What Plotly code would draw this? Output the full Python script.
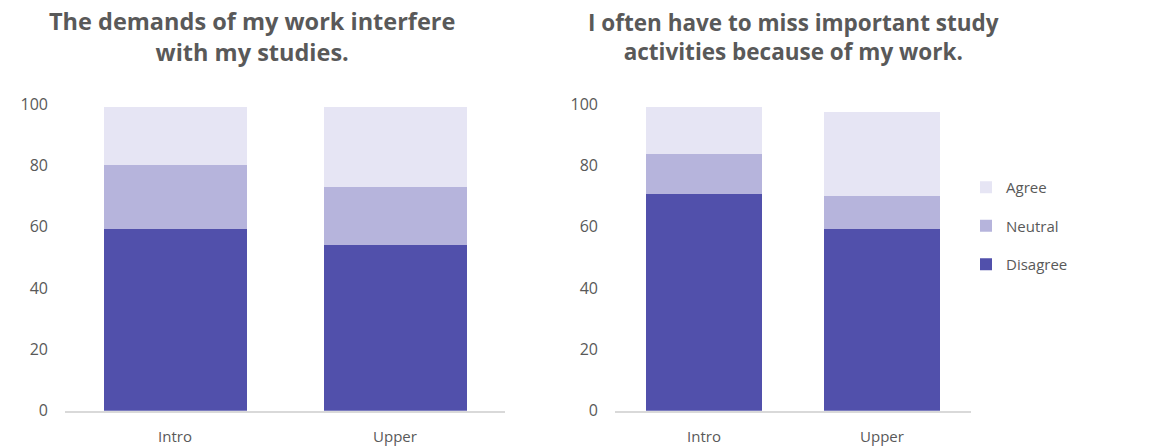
import plotly.graph_objects as go

categories = ["Intro", "Upper"]
series_names = ["Disagree", "Neutral", "Agree"]
legend_ranks = [3, 2, 1]
colors = ["#5150AB", "#B6B4DC", "#E6E5F4"]

# Chart 1: The demands of my work interfere with my studies.
c1_disagree = [59.2, 54.0]
c1_neutral = [20.9, 18.9]
c1_agree = [18.8, 26.0]

# Chart 2: I often have to miss important study activities because of my work.
c2_disagree = [70.7, 59.2]
c2_neutral = [13.0, 10.8]
c2_agree = [15.2, 27.4]

title1 = "The demands of my work interfere<br>with my studies."
title2 = "I often have to miss important study<br>activities because of my work."
yticks = [0, 20, 40, 60, 80, 100]

W, H = 1150, 448
fig = go.Figure()

for vals_list, xa, ya, show in [
    ([c1_disagree, c1_neutral, c1_agree], "x", "y", False),
    ([c2_disagree, c2_neutral, c2_agree], "x2", "y2", True),
]:
    for name, vals, col, rk in zip(series_names, vals_list, colors, legend_ranks):
        fig.add_trace(go.Bar(
            x=categories, y=vals, name=name, marker_color=col,
            marker_line_width=0, xaxis=xa, yaxis=ya, showlegend=show,
            legendgroup=name, legendrank=rk, width=0.65,
        ))

def px_x(p):
    return p / W

def px_y(p):
    return 1 - p / H

FONT = "Open Sans, Liberation Sans, sans-serif"
tickfont = dict(family=FONT, size=16, color="#595959")
xfont = dict(family=FONT, size=15, color="#595959")

ydom = [px_y(410.7), px_y(104)]
fig.update_layout(
    width=W, height=H,
    margin=dict(l=0, r=0, t=0, b=0, autoexpand=False),
    paper_bgcolor="white", plot_bgcolor="white",
    barmode="stack", bargap=0.35,
    xaxis=dict(domain=[px_x(65), px_x(505)], anchor="y", showline=True,
               linecolor="#D9D9D9", linewidth=1.5, tickfont=xfont,
               ticks="", ticklabelstandoff=12, automargin=False),
    yaxis=dict(domain=ydom, range=[0, 100], tickvals=yticks, showgrid=False,
               zeroline=False, showline=False, tickfont=tickfont,
               ticklabelstandoff=16, anchor="x", automargin=False),
    xaxis2=dict(domain=[px_x(615), px_x(971)], anchor="y2", showline=True,
                linecolor="#D9D9D9", linewidth=1.5, tickfont=xfont,
                ticks="", ticklabelstandoff=12, automargin=False),
    yaxis2=dict(domain=ydom, range=[0, 100], tickvals=yticks, showgrid=False,
                zeroline=False, showline=False, tickfont=tickfont,
                ticklabelstandoff=16, anchor="x2", automargin=False),
    legend=dict(x=px_x(966), y=px_y(171), xanchor="left", yanchor="top",
                traceorder="grouped", tracegroupgap=16,
                font=dict(family=FONT, size=15, color="#595959"),
                bgcolor="rgba(0,0,0,0)"),
    annotations=[
        dict(text="<b>" + title1 + "</b>", x=px_x(252), y=px_y(36), xref="paper", yref="paper",
             xanchor="center", yanchor="middle", showarrow=False,
             font=dict(family=FONT, size=23.5, color="#595959")),
        dict(text="<b>" + title2 + "</b>", x=px_x(793), y=px_y(37), xref="paper", yref="paper",
             xanchor="center", yanchor="middle", showarrow=False,
             font=dict(family=FONT, size=22.5, color="#595959")),
    ],
)

fig.write_html("out.html")
